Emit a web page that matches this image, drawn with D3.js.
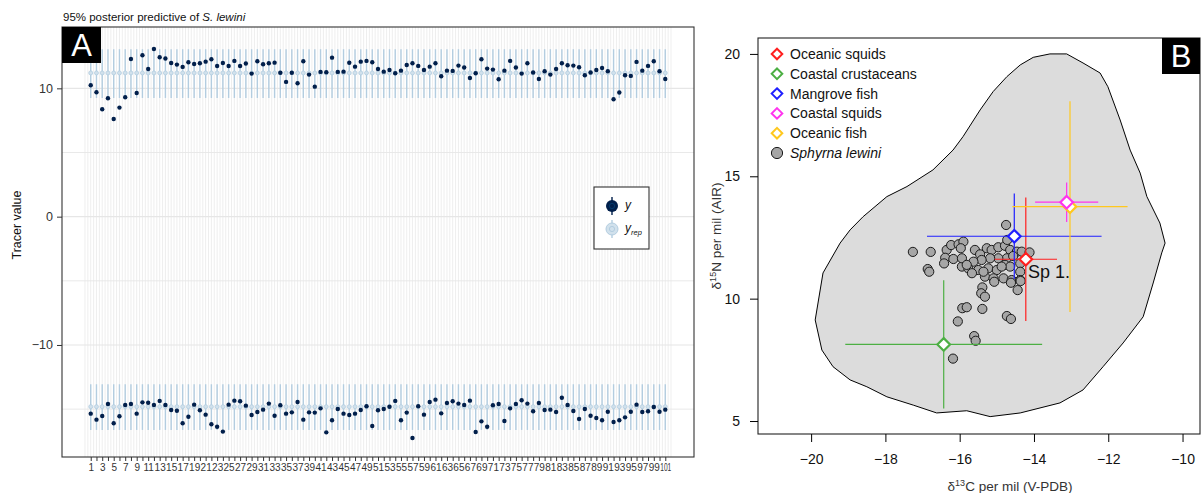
<!DOCTYPE html>
<html>
<head>
<meta charset="utf-8">
<script src="https://cdn.jsdelivr.net/npm/d3@7"></script>
<style>
  body { margin: 0; background: #fff; }
  svg { font-family: "Liberation Sans", Arial, sans-serif; }
</style>
</head>
<body>
<div id="chart"></div>
<script>
// ---- panel A data: observed tracer values per observation ----
var obsIndex = d3.range(1, 102);
var yN = [10.24, 9.69, 8.37, 9.23, 7.61, 8.5, 9.3, 12.29, 9.64, 12.58,
  11.51, 13.07, 12.42, 12.32, 11.98, 11.85, 11.67, 12.03, 11.9, 11.95,
  12.08, 12.27, 11.74, 11.98, 11.74, 12.14, 11.74, 11.93, 11.15, 12.11,
  11.88, 11.95, 12.0, 11.22, 10.5, 11.22, 10.4, 12.11, 11.07, 10.13,
  11.28, 11.25, 12.39, 11.28, 11.3, 11.99, 11.69, 12.08, 12.14, 12.03,
  11.51, 11.30, 11.43, 11.17, 11.38, 11.82, 11.95, 11.75, 11.43, 11.69,
  11.95, 10.94, 11.38, 11.36, 11.77, 11.62, 10.81, 11.17, 12.27, 11.54,
  11.46, 10.71, 11.38, 12.14, 11.62, 11.15, 11.95, 11.23, 10.73, 11.33,
  11.07, 11.51, 11.95, 11.80, 11.77, 11.64, 11.02, 11.23, 11.43, 11.59,
  11.33, 9.15, 9.67, 11.02, 10.97, 12.06, 11.38, 11.75, 12.11, 11.33, 10.73];
var yC = [-15.35, -15.82, -15.53, -14.6, -16.1, -15.56, -14.68, -14.6, -15.35, -14.47,
  -14.5, -14.68, -14.36, -14.68, -15.07, -15.12, -16.1, -15.59, -14.65, -15.09,
  -15.43, -16.18, -16.37, -16.75, -14.65, -14.34, -14.39, -14.73, -15.46, -15.22,
  -15.04, -14.57, -15.51, -14.7, -15.35, -15.25, -14.44, -15.82, -15.25, -15.27,
  -14.94, -16.81, -15.87, -14.99, -15.35, -15.46, -15.35, -15.07, -14.78, -16.31,
  -15.09, -14.99, -14.81, -14.36, -15.87, -15.27, -17.25, -14.78, -15.43, -14.44,
  -14.26, -15.33, -14.52, -14.39, -14.57, -14.68, -14.34, -16.78, -15.95, -16.37,
  -14.7, -14.6, -15.92, -14.94, -14.6, -14.31, -14.57, -15.17, -14.52, -15.07,
  -15.04, -15.22, -14.11, -14.68, -15.14, -15.77, -14.99, -15.51, -15.69, -15.87,
  -15.20, -16.0, -15.87, -15.64, -15.20, -14.65, -15.22, -15.17, -14.83, -15.20, -15.04];
// 95% posterior predictive interval (low, median, high) per tracer
var yrepN = [9.25, 11.2, 13.05];
var yrepC = [-16.62, -14.81, -13.06];
var yTicksA = [-10, 0, 10];
var yGridA = [-15, -10, -5, 0, 5, 10];

// ---- panel B data ----
var sourceNames = ["Oceanic squids", "Coastal crustaceans", "Mangrove fish", "Coastal squids", "Oceanic fish"];
var sourceColors = ["#ff1f1f", "#4caf43", "#1f1fff", "#ff33ee", "#ffc81e"];
var sourceC = [-14.22, -16.43, -14.53, -13.12, -13.03];
var sourceCsd = [0.84, 2.65, 2.35, 0.85, 1.55];
var sourceN = [11.61, 8.13, 12.55, 13.94, 13.76];
var sourceNsd = [2.52, 2.62, 1.75, 0.81, 4.31];

var consumerC = [-17.26, -16.78, -16.86, -16.82, -16.35, -16.23, -16.39, -16.42, -16.17, -16.03,
  -15.94, -15.90, -15.97, -15.59, -15.45, -15.27, -15.14, -14.96, -14.78, -14.64,
  -14.46, -14.33, -14.73, -14.96, -15.18, -15.41, -15.63, -15.94, -15.77, -15.50,
  -15.23, -15.00, -14.78, -14.64, -14.37, -14.37, -15.32, -15.09, -14.82, -14.60,
  -14.37, -14.75, -15.39, -15.42, -15.32, -15.07, -14.62, -14.44, -14.36, -15.93,
  -15.81, -15.39, -16.05, -14.73, -14.62, -15.61, -15.57, -16.18, -14.72, -15.67,
  -15.36, -14.87, -15.81, -14.56, -14.12];
var consumerN = [11.91, 11.91, 11.21, 11.10, 11.99, 12.19, 11.67, 11.44, 11.62, 12.22,
  11.31, 12.33, 12.06, 11.99, 11.81, 12.06, 11.99, 12.10, 12.16, 11.99,
  11.92, 11.92, 11.65, 11.65, 11.65, 11.58, 11.51, 11.65, 11.24, 11.17,
  11.24, 11.17, 11.38, 11.31, 11.44, 11.10, 10.90, 10.83, 10.83, 10.76,
  10.76, 13.01, 10.46, 10.22, 10.08, 10.69, 10.65, 10.35, 10.72, 9.61,
  9.65, 9.58, 9.07, 9.29, 9.17, 8.47, 8.28, 7.55, 12.40, 11.04,
  11.10, 11.31, 11.38, 11.74, 11.89];

// mixing region outline (clockwise from the top)
var hullC = [-13.57, -13.12, -12.68, -12.22, -12.01, -11.68, -11.41, -11.14, -10.96, -10.61,
  -10.47, -10.56, -10.79, -11.06, -11.60, -12.14, -12.68, -13.30, -14.37, -15.18,
  -15.81, -16.62, -17.25, -17.96, -18.50, -18.95, -19.41, -19.71, -19.89, -19.68,
  -19.22, -18.95, -18.60, -17.96, -17.42, -16.72, -16.18, -15.91, -15.45, -15.10,
  -14.73, -14.37, -14.02];
var hullN = [20.0, 20.0, 19.63, 19.22, 18.66, 17.30, 16.07, 15.13, 14.17, 13.09,
  12.27, 11.87, 10.64, 9.26, 8.19, 7.22, 6.27, 5.74, 5.33, 5.18,
  5.42, 5.33, 5.65, 5.99, 6.40, 6.68, 7.22, 7.90, 9.13, 11.05,
  12.27, 12.81, 13.35, 14.17, 14.58, 15.26, 16.07, 16.62, 17.71, 18.46,
  19.07, 19.55, 19.86];
var xTicksB = [-20, -18, -16, -14, -12, -10];
var yTicksB = [5, 10, 15, 20];

var svg = d3.select("#chart").append("svg").attr("width", 1203).attr("height", 493)
svg.append("rect").attr("width", 1203).attr("height", 493).attr("fill", "#fff")

// ================= panel A =================
var xA = d3.scaleLinear().domain([-4, 106]).range([62, 694]);
var yA = d3.scaleLinear().domain([-18.73, 14.78]).range([457, 27]);
var gA = svg.append("g");

// faint vertical grid
gA.append("g").selectAll("line").data(d3.range(0, 102.01, 0.5)).enter().append("line")
  .attr("x1", d => xA(d)).attr("x2", d => xA(d)).attr("y1", 27).attr("y2", 457)
  .attr("stroke", "#ececec").attr("stroke-width", 0.9);
gA.append("g").selectAll("line").data(yGridA).enter().append("line")
  .attr("x1", 62).attr("x2", 694).attr("y1", d => yA(d)).attr("y2", d => yA(d))
  .attr("stroke", "#e6e6e6").attr("stroke-width", d => d % 10 == 0 ? 1.2 : 0.9);

[[yN, yrepN], [yC, yrepC]].forEach(function(pair) {
  var obs = pair[0], rep = pair[1];
  var g = gA.append("g");
  g.selectAll("line").data(obsIndex).enter().append("line")
    .attr("x1", d => xA(d)).attr("x2", d => xA(d))
    .attr("y1", yA(rep[0])).attr("y2", yA(rep[2]))
    .attr("stroke", "#b3cde0").attr("stroke-width", 1.4);
  g.selectAll("circle.rep").data(obsIndex).enter().append("circle").attr("class", "rep")
    .attr("cx", d => xA(d)).attr("cy", yA(rep[1])).attr("r", 2)
    .attr("fill", "#d1e1ec").attr("stroke", "#b3cde0").attr("stroke-width", 0.8);
  g.selectAll("circle.obs").data(obs).enter().append("circle").attr("class", "obs")
    .attr("cx", (d, i) => xA(obsIndex[i])).attr("cy", d => yA(d)).attr("r", 2.2)
    .attr("fill", "#011f4b");
});

gA.append("rect").attr("x", 62).attr("y", 27).attr("width", 632).attr("height", 430)
  .attr("fill", "none").attr("stroke", "#333").attr("stroke-width", 1.1);

var axYA = gA.append("g").attr("transform", "translate(62,0)")
  .call(d3.axisLeft(yA).tickValues(yTicksA).tickSize(5).tickPadding(4));
axYA.select(".domain").remove();
axYA.selectAll("text").attr("font-size", 12.5).attr("fill", "#333").attr("font-family", null);
axYA.selectAll("line").attr("stroke", "#333");

var axXA = gA.append("g").attr("transform", "translate(0,457)")
  .call(d3.axisBottom(xA).tickValues(obsIndex).tickSize(4).tickPadding(3)
    .tickFormat(d => d % 2 ? d : ""));
axXA.select(".domain").remove();
axXA.selectAll("text").attr("font-size", 10).attr("fill", "#333").attr("font-family", null)
  .filter(d => d > 99).attr("textLength", 11).attr("lengthAdjust", "spacingAndGlyphs");
axXA.selectAll("line").attr("stroke", "#333");

svg.append("text").attr("transform", "translate(21,225) rotate(-90)")
  .attr("text-anchor", "middle").attr("font-size", 12.5).attr("fill", "#111").text("Tracer value");

var titleA = svg.append("text").attr("x", 63).attr("y", 21).attr("font-size", 11.5).attr("fill", "#111");
titleA.append("tspan").text("95% posterior predictive of ");
titleA.append("tspan").attr("font-style", "italic").text("S. lewini");

svg.append("rect").attr("x", 62).attr("y", 27).attr("width", 39).attr("height", 36).attr("fill", "#000");
svg.append("text").attr("x", 81.5).attr("y", 56).attr("text-anchor", "middle")
  .attr("font-size", 31).attr("fill", "#fff").text("A");

// legend A
var legA = svg.append("g").attr("transform", "translate(594,187)");
legA.append("rect").attr("width", 55).attr("height", 62).attr("fill", "#fff")
  .attr("stroke", "#333").attr("stroke-width", 1.1);
legA.append("line").attr("x1", 18).attr("x2", 18).attr("y1", 10).attr("y2", 28).attr("stroke", "#011f4b").attr("stroke-width", 1.4);
legA.append("circle").attr("cx", 18).attr("cy", 19).attr("r", 6).attr("fill", "#011f4b");
legA.append("circle").attr("cx", 18).attr("cy", 19).attr("r", 2.6).attr("fill", "none").attr("stroke", "#03396c").attr("stroke-width", 1);
legA.append("line").attr("x1", 18).attr("x2", 18).attr("y1", 33).attr("y2", 51).attr("stroke", "#b3cde0").attr("stroke-width", 1.4);
legA.append("circle").attr("cx", 18).attr("cy", 42).attr("r", 6).attr("fill", "#d1e1ec").attr("stroke", "#b3cde0");
legA.append("circle").attr("cx", 18).attr("cy", 42).attr("r", 2.6).attr("fill", "none").attr("stroke", "#b3cde0").attr("stroke-width", 1);
legA.append("text").attr("x", 31).attr("y", 22).attr("font-size", 12).attr("font-style", "italic").attr("fill", "#111").text("y");
var yrepT = legA.append("text").attr("x", 31).attr("y", 45).attr("font-size", 12).attr("font-style", "italic").attr("fill", "#111");
yrepT.append("tspan").text("y");
yrepT.append("tspan").attr("font-size", 7.5).attr("dy", 3).text("rep");

// ================= panel B =================
var xB = d3.scaleLinear().domain([-21.43, -9.53]).range([758, 1200]);
var yB = d3.scaleLinear().domain([4.47, 20.65]).range([434, 38]);
var gB = svg.append("g");

var hullPts = hullC.map((c, i) => [xB(c), yB(hullN[i])]);
gB.append("path").attr("d", d3.line()(hullPts) + "Z")
  .attr("fill", "#dcdcdc").attr("stroke", "#000").attr("stroke-width", 1);

gB.append("g").selectAll("circle").data(consumerC).enter().append("circle")
  .attr("cx", d => xB(d)).attr("cy", (d, i) => yB(consumerN[i])).attr("r", 4.6)
  .attr("fill", "#a6a6a6").attr("stroke", "#1a1a1a").attr("stroke-width", 1);

var diamond = function(s) { return "M0," + (-s) + "L" + s + ",0L0," + s + "L" + (-s) + ",0Z"; };
var order = [0, 1, 2, 4, 3];
order.forEach(function(i) {
  var g = gB.append("g");
  g.append("line").attr("x1", xB(sourceC[i] - sourceCsd[i])).attr("x2", xB(sourceC[i] + sourceCsd[i]))
    .attr("y1", yB(sourceN[i])).attr("y2", yB(sourceN[i]))
    .attr("stroke", sourceColors[i]).attr("stroke-width", 1.2);
  g.append("line").attr("x1", xB(sourceC[i])).attr("x2", xB(sourceC[i]))
    .attr("y1", yB(sourceN[i] - sourceNsd[i])).attr("y2", yB(sourceN[i] + sourceNsd[i]))
    .attr("stroke", sourceColors[i]).attr("stroke-width", 1.2);
});
order.forEach(function(i) {
  gB.append("path").attr("d", diamond(6.3))
    .attr("transform", "translate(" + xB(sourceC[i]) + "," + yB(sourceN[i]) + ")")
    .attr("fill", "#fff").attr("stroke", sourceColors[i]).attr("stroke-width", 2.2);
});

gB.append("text").attr("x", xB(-14.16)).attr("y", yB(10.84)).attr("font-size", 18).attr("fill", "#111").text("Sp 1.");

gB.append("rect").attr("x", 758).attr("y", 38).attr("width", 442).attr("height", 396)
  .attr("fill", "none").attr("stroke", "#222").attr("stroke-width", 1.1);

var axYB = gB.append("g").attr("transform", "translate(758,0)")
  .call(d3.axisLeft(yB).tickValues(yTicksB).tickSize(8).tickPadding(10));
axYB.select(".domain").remove();
axYB.selectAll("text").attr("font-size", 14).attr("fill", "#111").attr("font-family", null);
var axXB = gB.append("g").attr("transform", "translate(0,434)")
  .call(d3.axisBottom(xB).tickValues(xTicksB).tickSize(8).tickPadding(12));
axXB.select(".domain").remove();
axXB.selectAll("text").attr("font-size", 14).attr("fill", "#111").attr("font-family", null);

var xt = svg.append("text").attr("x", 1010).attr("y", 491).attr("text-anchor", "middle")
  .attr("font-size", 13.5).attr("fill", "#333");
xt.append("tspan").text("δ");
xt.append("tspan").attr("font-size", 9).attr("dy", -5).text("13");
xt.append("tspan").attr("dy", 5).text("C per mil (V-PDB)");
var yt = svg.append("text").attr("transform", "translate(721,236) rotate(-90)").attr("text-anchor", "middle")
  .attr("font-size", 13.5).attr("fill", "#333");
yt.append("tspan").text("δ");
yt.append("tspan").attr("font-size", 9).attr("dy", -5).text("15");
yt.append("tspan").attr("dy", 5).text("N per mil (AIR)");

// legend B
var legB = svg.append("g").attr("transform", "translate(777,54)");
sourceNames.forEach(function(name, i) {
  legB.append("path").attr("d", diamond(5.3)).attr("transform", "translate(0," + (i * 19.8) + ")")
    .attr("fill", "#fff").attr("stroke", sourceColors[i]).attr("stroke-width", 2);
  legB.append("text").attr("x", 13).attr("y", i * 19.8 + 5).attr("font-size", 14).attr("fill", "#111").text(name);
});
legB.append("circle").attr("cx", 0).attr("cy", 5 * 19.8).attr("r", 5.6)
  .attr("fill", "#a6a6a6").attr("stroke", "#1a1a1a");
legB.append("text").attr("x", 13).attr("y", 5 * 19.8 + 5).attr("font-size", 14).attr("font-style", "italic")
  .attr("fill", "#111").text("Sphyrna lewini");

svg.append("rect").attr("x", 1162).attr("y", 38).attr("width", 38).attr("height", 36).attr("fill", "#000");
svg.append("text").attr("x", 1181).attr("y", 67).attr("text-anchor", "middle")
  .attr("font-size", 31).attr("fill", "#fff").text("B");
</script>
</body>
</html>
